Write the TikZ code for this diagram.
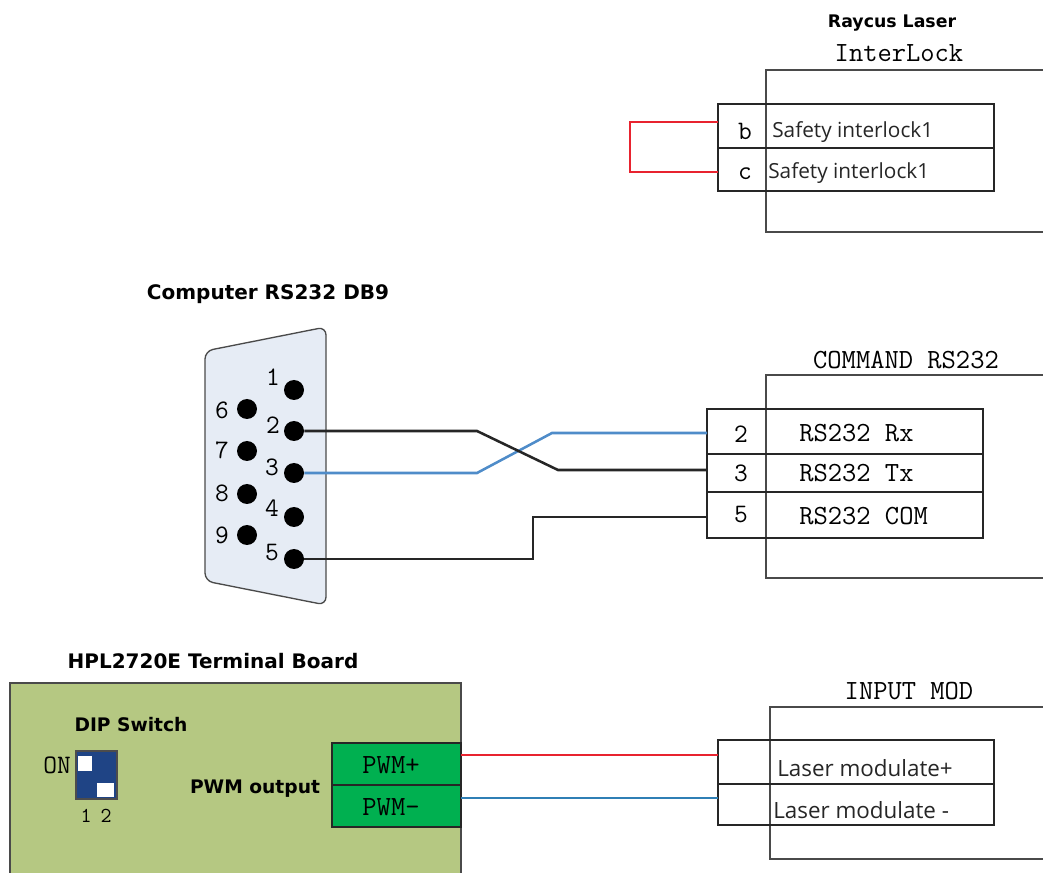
\documentclass[tikz,border=0pt]{standalone}
\usepackage{fontspec}
\setmainfont{Open Sans}
\newfontfamily\titlefont{DejaVu Sans}
\usetikzlibrary{calc}
\definecolor{boardgreen}{HTML}{B5C882}
\definecolor{termgreen}{HTML}{00B050}
\definecolor{dipblue}{HTML}{1F4485}
\definecolor{plugblue}{HTML}{E6ECF5}
\definecolor{wirered}{HTML}{E8232F}
\definecolor{wireblue}{HTML}{4F8CC9}
\definecolor{wireteal}{HTML}{2F7FB5}
\definecolor{framegray}{HTML}{4A4A4A}
\tikzset{
	title/.style={font=\titlefont\fontsize{13}{15}\selectfont\bfseries, inner sep=0pt},
	bigtitle/.style={font=\titlefont\fontsize{15}{17}\selectfont\bfseries, inner sep=0pt},
	midtitle/.style={font=\titlefont\fontsize{14}{16}\selectfont\bfseries, inner sep=0pt},
	mono/.style={font=\fontsize{20.8}{23}\selectfont\ttfamily, inner sep=0pt},
	digit/.style={font=\fontsize{20}{22}\selectfont\ttfamily, inner sep=0pt},
	tiny digit/.style={font=\fontsize{16}{18}\selectfont\ttfamily, inner sep=0pt},
	safety/.style={font=\fontsize{15.6}{18}\selectfont, inner sep=0pt, anchor=west, text=black!85},
	modulate/.style={font=\fontsize{16.8}{19}\selectfont, inner sep=0pt, anchor=west, text=black!85},
	pin/.style={circle, fill=black, inner sep=0pt, minimum size=15pt},
	frame/.style={line width=0.9pt, color=framegray},
	block/.style={line width=0.9pt, color=black!85},
	wire/.style={line width=1.9pt}
}
\begin{document}
\begin{tikzpicture}[x=0.75pt, y=-0.75pt]
	%%%%% START %%%%%
	\useasboundingbox (0, 0) rectangle (1043, 873);

	% laser interlock
	\node[title] (raycus) at (892, 23) {Raycus Laser};
	\node[mono] (interlock) at (899, 53) {InterLock};
	\draw[frame] (1050, 70) -- (766, 70) -- (766, 232) -- (1050, 232);
	\draw[block] (718, 104) rectangle (994, 191);
	\draw[block] (718, 148) -- (994, 148);
	\node[digit] (termb) at (745, 131) {b};
	\node[digit] (termc) at (745, 174) {c};
	\node[safety] (safetya) at (772, 132) {Safety interlock1};
	\node[safety] (safetyb) at (768, 173) {Safety interlock1};
	\coordinate (jumpb) at (718, 122);
	\coordinate (jumpc) at (718, 172);
	\draw[wire, color=wirered] (jumpb) -- (630, 122) -- (630, 172) -- (jumpc);

	% db9 plug
	\node[bigtitle] (db9) at (268, 294) {Computer RS232 DB9};
	\draw[line width=1pt, color=framegray, fill=plugblue, rounded corners=6pt] (205, 351) -- (326, 327) -- (326, 605) -- (205, 581) -- cycle;
	\node[pin] (pin1) at (294, 390) {};
	\node[pin] (pin2) at (294, 431) {};
	\node[pin] (pin3) at (294, 473) {};
	\node[pin] (pin4) at (294, 517) {};
	\node[pin] (pin5) at (294, 559) {};
	\node[pin] (pin6) at (247, 409) {};
	\node[pin] (pin7) at (247, 451) {};
	\node[pin] (pin8) at (247, 494) {};
	\node[pin] (pin9) at (247, 535) {};
	\node[digit] (num1) at (273, 377) {1};
	\node[digit] (num2) at (273, 425) {2};
	\node[digit] (num3) at (272, 467) {3};
	\node[digit] (num4) at (272, 508) {4};
	\node[digit] (num5) at (272, 553) {5};
	\node[digit] (num6) at (222, 410) {6};
	\node[digit] (num7) at (222, 450) {7};
	\node[digit] (num8) at (222, 493) {8};
	\node[digit] (num9) at (222, 535) {9};

	% command rs232
	\node[mono] (command) at (906, 360) {COMMAND RS232};
	\draw[frame] (1050, 375) -- (766, 375) -- (766, 578) -- (1050, 578);
	\draw[block] (707, 409) rectangle (983, 538);
	\draw[block] (707, 454) -- (983, 454);
	\draw[block] (707, 492) -- (983, 492);
	\node[digit] (term2) at (741, 434) {2};
	\node[digit] (term3) at (741, 473) {3};
	\node[digit] (term5) at (741, 515) {5};
	\node[mono, anchor=west] (rx) at (799, 433) {RS232 Rx};
	\node[mono, anchor=west] (tx) at (799, 473) {RS232 Tx};
	\node[mono, anchor=west] (com) at (799, 516) {RS232 COM};
	\coordinate (end2) at (707, 433);
	\coordinate (end3) at (707, 470);
	\coordinate (end5) at (707, 517);
	\draw[wire, color=wireblue] (pin3) -- (477, 473) -- (552, 433) -- (end2);
	\draw[wire, color=black!85] (pin2) -- (477, 431) -- (558, 470) -- (end3);
	\draw[wire, color=black!85] (pin5) -- (533, 559) -- (533, 517) -- (end5);

	% terminal board
	\node[bigtitle] (board) at (213, 661) {HPL2720E Terminal Board};
	\draw[frame, fill=boardgreen] (10, 683) rectangle (461, 880);
	\node[midtitle] (dip) at (131, 725) {DIP Switch};
	\node[digit] (on) at (57, 765) {ON};
	\draw[line width=1pt, color=black!70, fill=dipblue] (76, 751) rectangle (117, 799);
	\fill[white] (78, 756) rectangle (92, 771);
	\fill[white] (97, 783) rectangle (114, 797);
	\node[tiny digit] (dipa) at (86, 816) {1};
	\node[tiny digit] (dipb) at (106, 816) {2};
	\node[midtitle] (pwm) at (255, 789) {PWM output};
	\draw[block, fill=termgreen] (332, 743) rectangle (461, 827);
	\draw[block] (332, 785) -- (461, 785);
	\node[mono] (pwmp) at (391, 765) {PWM+};
	\node[mono] (pwmm) at (391, 807) {PWM-};

	% input mod
	\node[mono] (input) at (909, 691) {INPUT MOD};
	\draw[frame] (1050, 707) -- (770, 707) -- (770, 859) -- (1050, 859);
	\draw[block] (718, 740) rectangle (994, 825);
	\draw[block] (718, 784) -- (994, 784);
	\node[modulate] (modp) at (777, 768) {Laser modulate+};
	\node[modulate] (modm) at (773, 810) {Laser modulate -};
	\coordinate (outp) at (461, 755);
	\coordinate (outm) at (461, 798);
	\coordinate (modin) at (718, 755);
	\coordinate (modout) at (718, 798);
	\draw[wire, color=wirered] (outp) -- (modin);
	\draw[wire, color=wireteal] (outm) -- (modout);

	%%%%% END %%%%%
\end{tikzpicture}
\end{document}
